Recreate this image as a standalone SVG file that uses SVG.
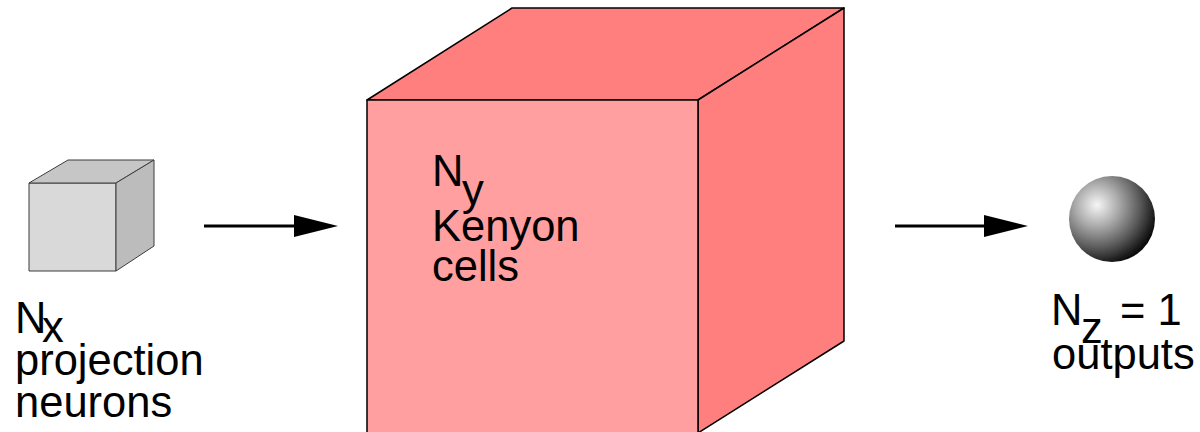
<svg xmlns="http://www.w3.org/2000/svg" width="1200" height="432" viewBox="0 0 1200 432">
  <style>
    .label { font-family: "Liberation Sans", Arial, sans-serif; font-size: 43.5px; fill: #000; }
    .grey-edge { stroke: #3c3c3c; stroke-width: 1; stroke-linejoin: round; }
    .red-edge { stroke: #000; stroke-width: 1.5; stroke-linejoin: round; }
    .arrow { stroke: #000; stroke-width: 3; fill: none; marker-end: url(#head); }
  </style>
  <defs>
    <marker id="head" markerUnits="userSpaceOnUse" markerWidth="44" markerHeight="22" refX="2" refY="11" orient="auto">
      <path d="M0,0 L44,11 L0,22 Z" fill="#000"/>
    </marker>
    <radialGradient id="ball" cx="1097" cy="205" r="62" fx="1097" fy="205" gradientUnits="userSpaceOnUse">
      <stop offset="0" stop-color="#f6f6f6"/>
      <stop offset="0.35" stop-color="#aaaaaa"/>
      <stop offset="0.7" stop-color="#585858"/>
      <stop offset="1" stop-color="#0a0a0a"/>
    </radialGradient>
    <filter id="soft" x="-10%" y="-10%" width="120%" height="120%">
      <feGaussianBlur stdDeviation="0.6"/>
    </filter>
  </defs>

  <!-- input layer: projection neurons -->
  <g id="projection-neurons">
    <polygon class="grey-edge" fill="#d9d9d9" points="29,183 116,183 116,271 29,271"/>
    <polygon class="grey-edge" fill="#c6c6c6" points="29,183 68,160 154,160 116,183"/>
    <polygon class="grey-edge" fill="#bcbcbc" points="116,183 154,160 154,246 116,271"/>
    <text class="label" x="15" y="333">N<tspan x="42" dy="9">x</tspan></text>
    <text class="label" x="15" y="375">projection</text>
    <text class="label" x="15" y="417">neurons</text>
  </g>

  <!-- hidden layer: Kenyon cells -->
  <g id="kenyon-cells">
    <polygon class="red-edge" fill="#ff7f7f" points="367,100 512,8 844,8 698,100"/>
    <polygon class="red-edge" fill="#ff7f7f" points="698,100 844,8 844,341 698,433"/>
    <polygon class="red-edge" fill="#ff9f9f" points="367,100 698,100 698,440 367,440"/>
    <text class="label" x="432" y="186">N<tspan x="462" dy="19">y</tspan></text>
    <text class="label" x="432" y="241">Kenyon</text>
    <text class="label" x="432" y="281">cells</text>
  </g>

  <!-- output layer -->
  <g id="outputs">
    <circle cx="1112" cy="219" r="43" fill="url(#ball)" filter="url(#soft)"/>
    <text class="label" x="1051" y="325">N<tspan x="1081" dy="18">z</tspan><tspan x="1120" dy="-18">= 1</tspan></text>
    <text class="label" x="1052" y="369">outputs</text>
  </g>

  <!-- connections between layers -->
  <g id="connectors">
    <line class="arrow" x1="204" y1="226" x2="296" y2="226"/>
    <line class="arrow" x1="895" y1="226" x2="986" y2="226"/>
  </g>
</svg>
